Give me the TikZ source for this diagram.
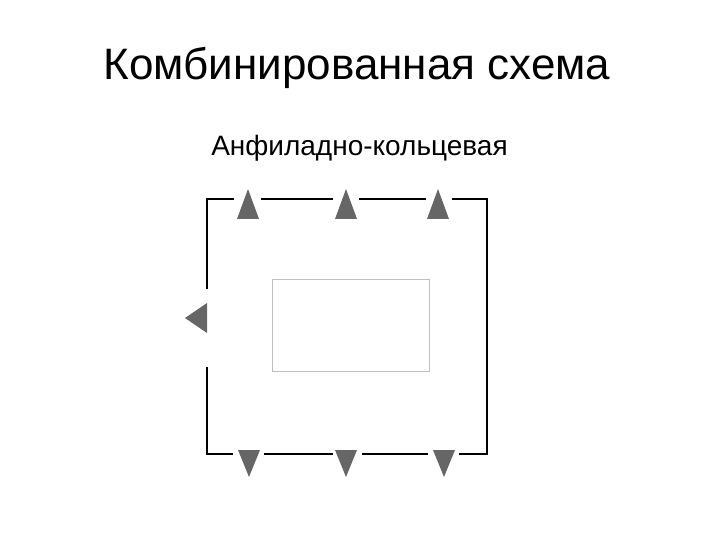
\documentclass[tikz,border=0pt]{standalone}
\usepackage{fontspec}
\setmainfont{Liberation Sans}
\begin{document}
\begin{tikzpicture}[x=1pt,y=-1pt,
  wall/.style={line width=2.8pt,line cap=rect},
  arr/.style={fill=black!60,draw=none},
  inner/.style={draw=black!25,line width=1pt}]
\useasboundingbox (0,0) rectangle (720,540);
\node[anchor=base,font=\fontsize{44}{48}\selectfont] (title) at (357,80) {Комбинированная схема};
\node[anchor=base,font=\fontsize{28}{32}\selectfont] (sub) at (359.5,156) {Анфиладно-кольцевая};
% walls
\draw[wall] (233,199) -| (207,288);
\draw[wall] (207,368) |- (232,454);
\draw[wall] (262,199) -- (332,199);
\draw[wall] (360,199) -- (425,199);
\draw[wall] (453,199) -| (487,454) -- (460,454);
\draw[wall] (265,454) -- (332,454);
\draw[wall] (363,454) -- (427,454);
% top arrows
\fill[arr] (248,189) -- (259,219) -- (237,219) -- cycle;
\fill[arr] (346,189) -- (357,219) -- (335,219) -- cycle;
\fill[arr] (438,189) -- (449,219) -- (427,219) -- cycle;
% bottom arrows
\fill[arr] (249,477) -- (260,450) -- (238,450) -- cycle;
\fill[arr] (346,477) -- (357,450) -- (335,450) -- cycle;
\fill[arr] (444,477) -- (455,450) -- (433,450) -- cycle;
% left arrow
\fill[arr] (185,318) -- (207,303) -- (207,333) -- cycle;
% inner rectangle
\node[inner,minimum width=157pt,minimum height=92pt,inner sep=0pt] (room) at (350.5,325) {};
\end{tikzpicture}
\end{document}
